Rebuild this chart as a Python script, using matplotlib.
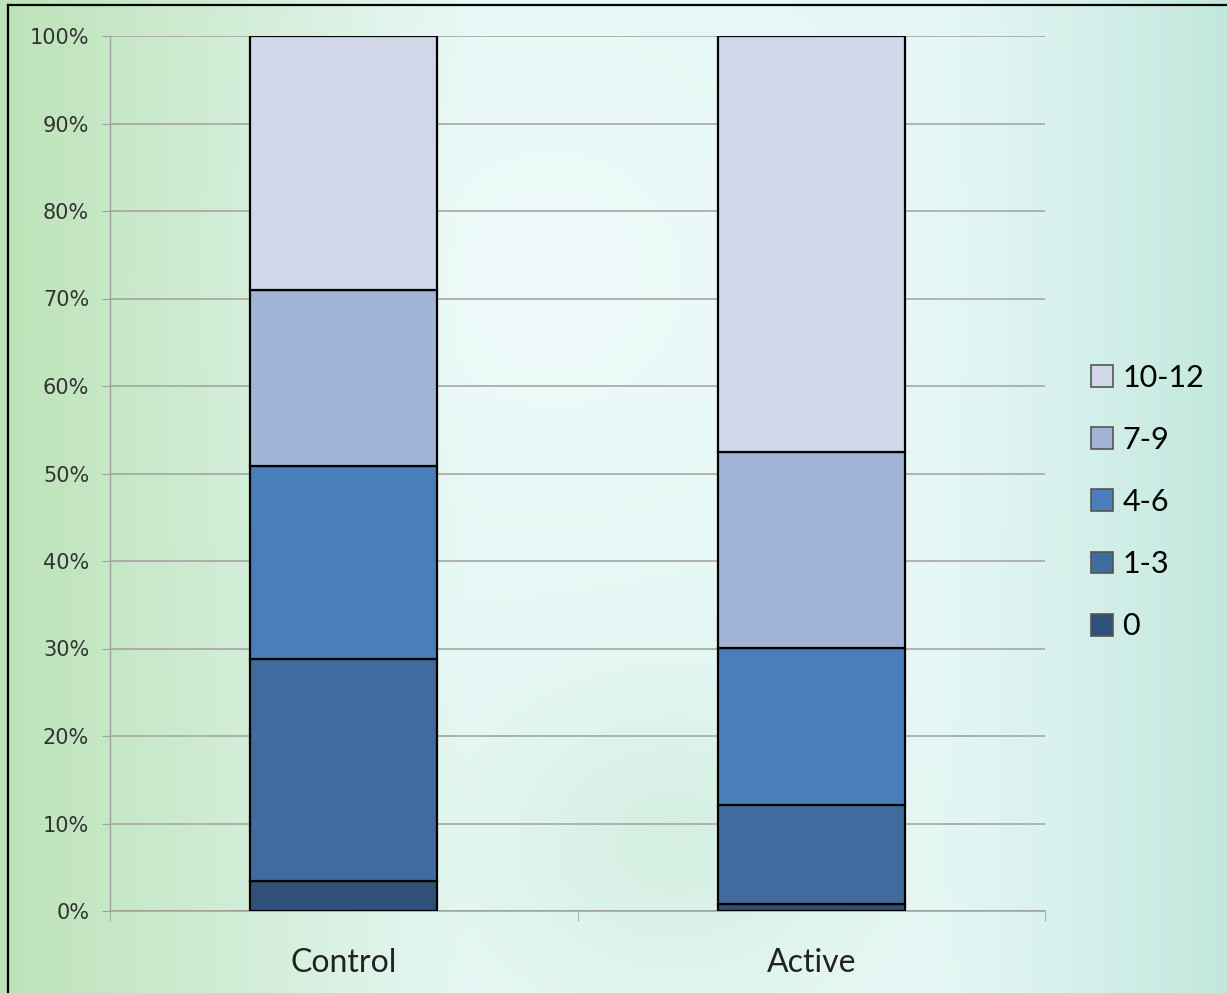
import numpy as np
import matplotlib
matplotlib.use("Agg")
import matplotlib.pyplot as plt
from matplotlib.lines import Line2D
from matplotlib.patches import Patch
from matplotlib.ticker import PercentFormatter

categories = ["Control", "Active"]
series_names = ["0", "1-3", "4-6", "7-9", "10-12"]
values = {
    "0":     [3.4, 0.8],
    "1-3":   [25.4, 11.3],
    "4-6":   [22.1, 18.0],
    "7-9":   [20.1, 22.4],
    "10-12": [29.0, 47.5],
}
colors = {
    "0": "#2f5179",
    "1-3": "#3f6b9f",
    "4-6": "#4a7ebb",
    "7-9": "#a2b4d6",
    "10-12": "#d0d7e8",
}
yticks = [0, 10, 20, 30, 40, 50, 60, 70, 80, 90, 100]

W, H = 1227, 993
fig = plt.figure(figsize=(W / 100, H / 100), dpi=100)

# background gradient
bg = fig.add_axes([0, 0, 1, 1], zorder=-10)
yy, xx = np.mgrid[0:1:200j, 0:1:250j]
green = np.array([0.74, 0.89, 0.72])
light = np.array([0.90, 0.97, 0.96])
teal = np.array([0.76, 0.91, 0.87])
wl = np.clip(1 - xx / 0.38, 0, 1) ** 1.0
wr = np.clip((xx - 0.75) / 0.25, 0, 1) ** 1.2
wm = 1 - wl - wr
img = wl[..., None] * green + wm[..., None] * light + wr[..., None] * teal
blob = np.exp(-(((xx - 0.45) / 0.18) ** 2 + ((yy - 0.28) / 0.22) ** 2))
img = img * (1 - 0.5 * blob[..., None]) + 0.5 * blob[..., None] * np.array([0.96, 0.99, 0.99])
blob2 = np.exp(-(((xx - 0.55) / 0.14) ** 2 + ((yy - 0.85) / 0.14) ** 2))
img = img * (1 - 0.5 * blob2[..., None]) + 0.5 * blob2[..., None] * np.array([0.78, 0.91, 0.82])
bg.imshow(img, extent=[0, 1, 0, 1], origin="upper", aspect="auto", interpolation="bicubic")
bg.set_xlim(0, 1); bg.set_ylim(0, 1)
bg.axis("off")

# frame lines
fig.add_artist(Line2D([8 / W, 1], [1 - 5 / H, 1 - 5 / H], color="black", lw=1.6))
fig.add_artist(Line2D([8 / W, 8 / W], [0, 1 - 5 / H], color="black", lw=1.6))

ax = fig.add_axes([110 / W, 1 - 911 / H, (1045 - 110) / W, (911 - 36) / H])
ax.patch.set_alpha(0)
x = np.arange(len(categories))
bottom = np.zeros(len(categories))
for name in series_names:
    v = np.array(values[name])
    ax.bar(x, v, 0.4, bottom=bottom, color=colors[name], edgecolor="black",
           linewidth=1.6, zorder=3)
    bottom += v

ax.set_xlim(-0.5, 1.5)
ax.set_ylim(0, 100)
ax.set_yticks(yticks)
ax.yaxis.set_major_formatter(PercentFormatter(decimals=0))
ax.grid(axis="y", color="#a0a0a0", lw=1.1, zorder=0)
ax.set_xticks(x)
ax.set_xticklabels(categories, fontsize=23, color="#222222", family="Lato")
ax.set_xticks([-0.5, 0.5, 1.5], minor=True)
ax.tick_params(axis="x", which="major", length=0, pad=27)
ax.tick_params(axis="x", which="minor", length=7, color="#a0a0a0", direction="out")
ax.tick_params(axis="y", length=6, color="#a0a0a0", labelsize=15, labelcolor="#333333", pad=9)
for lbl in ax.get_yticklabels():
    lbl.set_family(["Liberation Sans Narrow", "DejaVu Sans"])
for s in ["top", "right"]:
    ax.spines[s].set_visible(False)
ax.spines["left"].set_color("#a0a0a0")
ax.spines["bottom"].set_color("#a0a0a0")
ax.spines["left"].set_linewidth(1.0)
ax.spines["bottom"].set_linewidth(1.1)

handles = [Patch(facecolor=colors[n], edgecolor="#555555", linewidth=1.2) for n in reversed(series_names)]
leg = fig.legend(handles, list(reversed(series_names)), loc="center left",
                 bbox_to_anchor=(1070 / W, 1 - 502 / H), frameon=False,
                 prop={"family": "Lato", "size": 22}, handlelength=0.72, handleheight=0.72,
                 handletextpad=0.3, labelspacing=1.12, borderpad=0.2)

fig.savefig("out.png", dpi=100)
